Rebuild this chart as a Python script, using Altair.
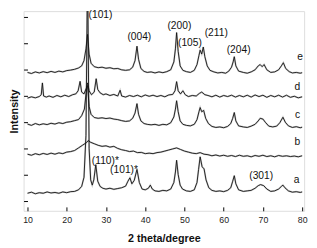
import altair as alt
import pandas as pd

# ---- data (2theta in degrees, intensity in arbitrary stacked units) ----
a_x = [10, 11, 12, 13, 14, 15, 16, 17, 18, 19, 20, 21, 22, 23, 23.8, 24.4, 24.9, 25.3, 25.7, 26.1, 26.5,
       26.9, 27.4, 27.9, 28.5, 29.2, 30, 31, 32, 33, 34, 35, 35.6, 36.1, 36.6, 37.2, 37.9, 38.5, 39.2,
       40, 40.8, 41.3, 41.8, 42.5, 43.5, 44.5, 45.5, 46.5, 47.3, 47.7, 48.0, 48.4, 48.9, 49.5, 50.5,
       51.5, 52.5, 53.2, 53.6, 54.0, 54.5, 55.0, 55.5, 56.2, 57, 58, 59, 60, 61, 61.8, 62.3, 62.7, 63.1,
       63.8, 65, 66, 67, 68, 68.8, 69.4, 70.2, 71, 72, 73, 74, 74.7, 75.1, 75.6, 76.5, 77.5, 78.5, 79.5, 80]
a_y = [0.29, 0.33, 0.27, 0.31, 0.29, 0.34, 0.30, 0.32, 0.29, 0.34, 0.31, 0.35, 0.36, 0.42, 0.55, 0.9, 2.5, 9.0, 2.0, 0.8, 0.6,
       0.8, 1.38, 0.75, 0.55, 0.48, 0.45, 0.48, 0.44, 0.47, 0.50, 0.56, 0.75, 0.88, 0.65, 0.78, 1.2, 0.7, 0.45,
       0.42, 0.48, 0.6, 0.45, 0.38, 0.36, 0.40, 0.38, 0.45, 0.7, 1.1, 1.55, 1.0, 0.6, 0.45, 0.38,
       0.36, 0.42, 0.7, 1.2, 1.68, 1.3, 1.22, 0.8, 0.5, 0.40, 0.36, 0.38, 0.35, 0.40, 0.5, 0.75, 0.96, 0.65,
       0.42, 0.36, 0.38, 0.40, 0.48, 0.58, 0.62, 0.58, 0.45, 0.36, 0.38, 0.45, 0.55, 0.60, 0.5, 0.38, 0.33, 0.35, 0.32, 0.34]

b_x = [10, 11, 12, 13, 14, 15, 16, 17, 18, 19, 20, 21, 22, 23, 24, 25, 25.5, 26, 27, 28, 29, 30, 31, 32,
       33, 34, 35, 36, 37, 38, 39, 40, 41, 42, 43, 44, 45, 46, 47, 48, 49, 50, 51, 52, 53, 54, 55, 56,
       57, 58, 59, 60, 61, 62, 63, 64, 65, 66, 67, 68, 69, 70, 71, 72, 73, 74, 75, 76, 77, 78, 79, 80]
b_y = [1.78, 1.74, 1.80, 1.76, 1.81, 1.77, 1.82, 1.78, 1.83, 1.80, 1.86, 1.88, 1.92, 2.02, 2.12, 2.22, 2.30, 2.24,
       2.18, 2.12, 2.08, 2.10, 2.05, 2.08, 2.00, 1.95, 1.92, 1.88, 1.90, 1.84, 1.85, 1.80, 1.82, 1.80, 1.84,
       1.86, 1.90, 1.94, 1.98, 2.02, 1.96, 1.90, 1.86, 1.82, 1.80, 1.84, 1.78, 1.76, 1.72, 1.75, 1.71, 1.74,
       1.70, 1.73, 1.69, 1.74, 1.70, 1.72, 1.68, 1.73, 1.70, 1.74, 1.69, 1.72, 1.68, 1.73, 1.70, 1.72, 1.69,
       1.71, 1.68, 1.72]

c_x = [10, 11, 12, 13, 14, 15, 16, 17, 18, 19, 20, 21, 22, 23, 23.8, 24.5, 25.0, 25.3, 25.7, 26.2, 27, 28,
       29, 30, 31, 32, 33, 34, 35, 36, 36.8, 37.4, 37.9, 38.3, 38.9, 39.7, 40.5, 41.5, 42.5, 43.5, 44.5,
       45.5, 46.5, 47.3, 47.7, 48.0, 48.4, 48.9, 49.6, 50.5, 51.5, 52.5, 53.2, 53.7, 54.0, 54.4, 54.9,
       55.4, 56.1, 57, 58, 59, 60, 61, 61.8, 62.3, 62.7, 63.1, 63.8, 65, 66, 67, 68, 68.8, 69.3, 70.0,
       70.6, 71.5, 72.5, 73.5, 74.3, 75.1, 75.7, 76.5, 77.5, 78.5, 79.5, 80]
c_y = [2.93, 2.88, 2.95, 2.90, 2.94, 2.91, 2.96, 2.93, 2.98, 2.95, 3.00, 3.02, 3.06, 3.10, 3.25, 3.5, 4.2, 4.4, 3.6,
       3.3, 3.18, 3.15, 3.17, 3.14, 3.16, 3.12, 3.10, 3.06, 3.03, 3.05, 3.15, 3.35, 3.71, 3.3, 3.05, 2.95,
       2.92, 2.90, 2.92, 2.88, 2.92, 2.90, 2.98, 3.2, 3.5, 3.82, 3.4, 3.05, 2.92, 2.88, 2.86, 2.92, 3.1,
       3.4, 3.56, 3.4, 3.45, 3.15, 2.95, 2.84, 2.80, 2.82, 2.79, 2.84, 2.95, 3.15, 3.37, 3.05, 2.86, 2.82,
       2.80, 2.85, 2.92, 3.05, 3.15, 3.12, 3.0, 2.85, 2.82, 2.85, 2.98, 3.19, 3.0, 2.86, 2.80, 2.83, 2.79, 2.81]

d_x = [10, 11, 12, 13, 13.5, 13.8, 14.1, 14.8, 15.5, 16.5, 17.5, 18.5, 19.5, 20.5, 21.5, 22.3, 22.9, 23.4,
       23.8, 24.4, 25.0, 25.3, 25.7, 26.3, 27.0, 27.5, 27.9, 28.5, 29.3, 30, 31, 32, 33, 33.6, 34, 35, 36,
       37, 38, 39, 40, 41, 42, 43, 44, 45, 46, 47, 47.6, 48.0, 48.4, 49.0, 49.6, 50.2, 51, 52, 53, 53.8,
       54.4, 55.2, 56, 57, 58, 59, 60, 61, 62, 63, 64, 65, 66, 67, 68, 69, 70, 71, 72, 73, 74, 75, 76, 77,
       78, 79, 80]
d_y = [3.92, 3.97, 3.93, 3.98, 4.05, 4.50, 4.00, 3.96, 4.00, 3.95, 4.02, 3.97, 4.03, 3.98, 4.05, 4.08, 4.20, 4.56,
       4.15, 4.08, 4.30, 4.50, 4.20, 4.05, 4.15, 4.66, 4.25, 4.12, 4.05, 4.08, 4.02, 4.06, 4.00, 4.22, 4.00,
       3.96, 4.02, 3.98, 4.03, 3.97, 4.04, 3.99, 4.03, 3.98, 4.02, 3.97, 4.04, 4.06, 4.20, 4.55, 4.20, 4.08,
       4.20, 4.05, 3.98, 4.02, 4.00, 4.10, 4.15, 4.05, 4.02, 3.97, 4.03, 3.96, 4.02, 3.98, 4.03, 3.96, 4.02,
       3.97, 4.03, 3.96, 4.04, 3.98, 4.03, 3.95, 4.02, 3.97, 4.03, 3.96, 4.03, 3.95, 3.99, 3.93, 3.97]

e_x = [10, 11, 12, 13, 14, 15, 16, 17, 18, 19, 20, 21, 22, 23, 23.8, 24.4, 24.9, 25.3, 25.7, 26.2, 27, 28,
       29, 30, 31, 32, 33, 34, 35, 36, 36.8, 37.4, 37.9, 38.3, 38.9, 39.7, 40.5, 41.5, 42.5, 43.5, 44.5,
       45.5, 46.5, 47.3, 47.7, 48.0, 48.4, 48.9, 49.6, 50.5, 51.5, 52.5, 53.2, 53.7, 54.0, 54.4, 54.8,
       55.2, 55.8, 56.5, 57.5, 58.5, 59.5, 60.5, 61.3, 62.0, 62.4, 62.7, 63.1, 63.8, 65, 66, 67, 68, 68.8,
       69.3, 69.8, 70.3, 71, 72, 73, 74, 74.7, 75.2, 75.8, 76.7, 77.5, 78.5, 79.5, 80]
e_y = [4.90, 4.86, 4.92, 4.88, 4.93, 4.89, 4.94, 4.90, 4.95, 4.92, 4.97, 4.99, 5.02, 5.07, 5.15, 5.35, 5.8, 6.35,
       5.6, 5.25, 5.12, 5.08, 5.10, 5.06, 5.08, 5.04, 5.05, 5.00, 4.98, 5.00, 5.10, 5.35, 5.90, 5.4, 5.05,
       4.94, 4.90, 4.92, 4.88, 4.92, 4.89, 4.93, 5.00, 5.3, 5.8, 6.42, 5.7, 5.15, 4.98, 4.93, 4.90, 4.98,
       5.2, 5.55, 5.75, 5.6, 5.87, 5.5, 5.15, 4.98, 4.92, 4.88, 4.90, 4.87, 4.95, 5.1, 5.3, 5.5, 5.15, 4.95,
       4.90, 4.87, 4.92, 5.00, 5.15, 5.20, 5.12, 5.20, 5.00, 4.90, 4.92, 5.00, 5.15, 5.27, 5.05, 4.93, 4.88,
       4.90, 4.87, 4.89]

curve_names = ["a", "b", "c", "d", "e"]

label_text = ["(101)", "(004)", "(200)", "(105)", "(211)", "(204)", "(110)*", "(101)*", "(301)",
              "a", "b", "c", "d", "e"]
label_x = [28.6, 38.5, 48.7, 51.4, 58.1, 63.8, 29.85, 34.6, 69.55, 78.6, 78.8, 78.8, 78.8, 79.5]
label_y = [7.09, 6.24, 6.68, 6.01, 6.42, 5.75, 1.52, 1.18, 0.96, 0.81, 2.26, 3.26, 4.34, 5.49]

x_ticks = [10, 20, 30, 40, 50, 60, 70, 80]
y_ticks = [0, 1, 2, 3, 4, 5, 6, 7]

# ---- tables ----
rows = []
for name, xs, ys in zip(curve_names, [a_x, b_x, c_x, d_x, e_x], [a_y, b_y, c_y, d_y, e_y]):
    for xv, yv in zip(xs, ys):
        rows.append({"curve": name, "theta": xv, "intensity": yv})
df = pd.DataFrame(rows)
labels = pd.DataFrame({"text": label_text, "theta": label_x, "intensity": label_y})

FONT = "Liberation Sans"
xscale = alt.Scale(domain=[9, 80.5], nice=False, zero=False)
yscale = alt.Scale(domain=[-0.38, 7.24], nice=False, zero=False)

band = alt.Chart(df).mark_line(clip=True, color="#a8a8a8", strokeWidth=1.8, opacity=0.6).encode(
    x=alt.X("theta:Q", scale=xscale,
            axis=alt.Axis(values=x_ticks, ticks=False, domain=False, grid=False, labelPadding=5,
                          labelFontSize=9, labelFont=FONT, labelColor="#222",
                          title="2 theta/degree", titleFont=FONT, titleFontSize=11,
                          titleFontWeight="bold", titleColor="#111", titlePadding=9)),
    y=alt.Y("intensity:Q", scale=yscale,
            axis=alt.Axis(values=y_ticks, ticks=False, labels=False, domain=False, grid=False,
                          title="Intensity", titleFont=FONT, titleFontSize=11,
                          titleFontWeight="bold", titleColor="#111", titlePadding=4)),
    detail="curve:N",
    order="theta:Q",
)

core = alt.Chart(df).mark_line(clip=True, color="#111", strokeWidth=0.9).encode(
    x=alt.X("theta:Q", scale=xscale,
            axis=alt.Axis(orient="bottom", values=x_ticks, labels=False, domain=False, grid=False,
                          ticks=True, tickSize=4, tickColor="#000", offset=-4, title=None)),
    y=alt.Y("intensity:Q", scale=yscale,
            axis=alt.Axis(orient="left", values=y_ticks, labels=False, domain=False, grid=False,
                          ticks=True, tickSize=4, tickColor="#000", offset=-4, title=None)),
    detail="curve:N",
    order="theta:Q",
)

text = alt.Chart(labels).mark_text(font=FONT, fontSize=10.5, color="#111").encode(
    x=alt.X("theta:Q", scale=xscale, axis=None),
    y=alt.Y("intensity:Q", scale=yscale, axis=None),
    text="text:N",
)

chart = alt.layer(band, core, text).resolve_axis(x="independent", y="independent").properties(
    width=288, height=205,
    autosize=alt.AutoSizeParams(type="none"),
    padding={"left": 16, "top": 0, "right": 5, "bottom": 35},
).configure_view(stroke="#000", strokeWidth=1).configure(background="white")

chart.save("out.html", embed_options={"renderer": "svg", "actions": False})
